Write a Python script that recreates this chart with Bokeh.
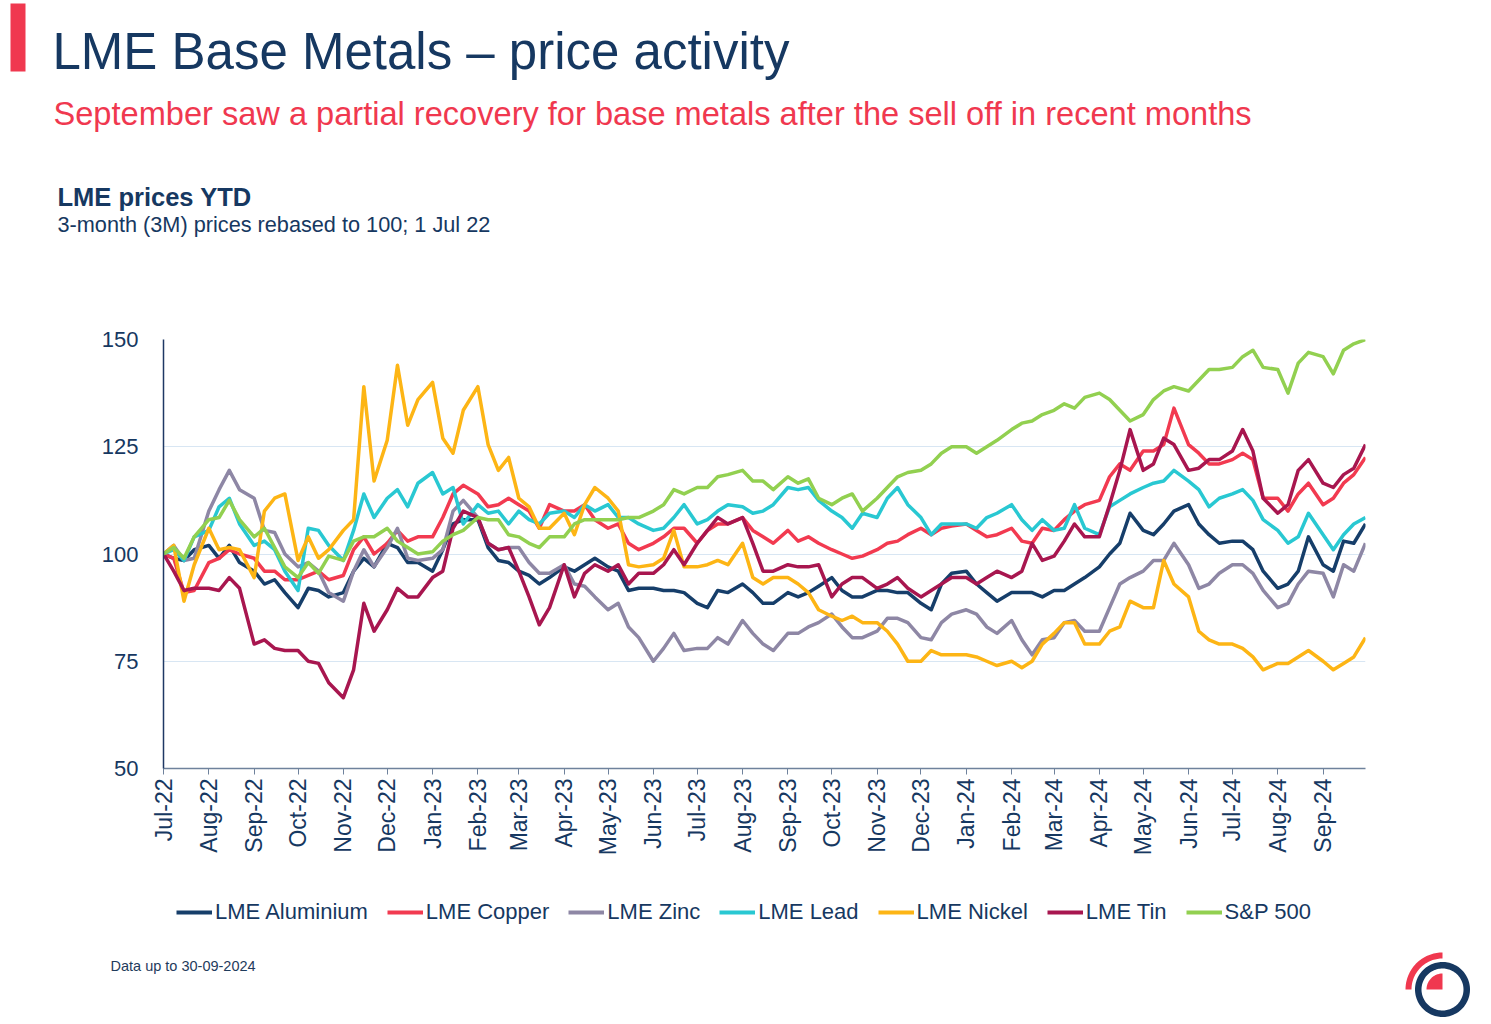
import numpy as np
import pandas as pd
from bokeh.plotting import figure
from bokeh.layouts import column
from bokeh.models import (Legend, LegendItem, FixedTicker, MonthsTicker,
                          DatetimeTickFormatter, Range1d)
from bokeh.core.properties import value
from bokeh.embed import file_html
from bokeh.resources import INLINE

# ---------------- data ----------------
MONTH_STARTS = pd.date_range("2022-07-01", "2024-09-01", freq="MS")
SAMPLE_DAYS = [1, 8, 15, 22]
LAST_DATE = "2024-09-30"

ALUMINIUM = [
    100, 99, 98.5, 101,  102, 99, 102, 98,  96, 93, 94, 91,  87.5, 92, 91.5, 90,
    91, 96, 99, 97,  102.5, 101.5, 98, 98,
    96, 101, 107, 108,  108, 101.5, 98.5, 98,  96, 95, 93, 94.5,  97, 96, 97.5, 99,
    97, 96, 91.5, 92,  92, 91.5, 91.5, 91,  88.5, 87.5, 91.5, 91,  93, 91, 88.5, 88.5,
    91, 90, 91, 92.5,  94.5, 91.5, 90, 90,  91.5, 91.5, 91, 91,  88.5, 87, 93, 95.5,
    96, 93, 91, 89,  91, 91, 91, 90,  91.5, 91.5, 93, 94.5,  97, 100, 102.5, 109.5,
    105.5, 104.5, 107, 110,  111.5, 107, 104.5, 102.5,  103, 103, 101, 96,
    92, 93, 96, 104,  97.5, 96, 103, 102.5, 107]

COPPER = [
    100, 99, 91, 91.5,  98, 99, 101, 100,  99, 96, 96, 94,  94, 95, 96, 94,
    95, 101, 104, 100,  102.5, 105.5, 103, 104,
    104, 108.5, 114, 116,  114, 111, 111.5, 113,  111.5, 110, 106, 111.5,  110, 110, 111.5, 108,
    106, 107, 102.5, 101,  102.5, 104, 106, 106,  102.5, 105.5, 107, 107,  108.5, 105.5, 104, 102.5,
    105.5, 103, 104, 102.5,  101, 100, 99, 99.5,  101, 102.5, 103, 104.5,  106, 104.5, 106, 106.5,
    107, 105.5, 104, 104.5,  106, 103, 102.5, 106,  105.5, 108, 110, 111.5,  112.5, 118, 121, 119.5,
    124, 124, 125.5, 134,  125.5, 123.5, 121, 121,  122, 123.5, 122, 113,
    113, 110, 114, 116.5,  111.5, 113, 116.5, 118.5, 122.5]

ZINC = [
    100, 102, 98.5, 99,  110, 115, 119.5, 115,  113, 105.5, 105, 100,  97, 98, 96, 91,
    89, 96, 101, 97,  101.5, 106, 99, 98.5,
    99, 101, 110, 112.5,  108.5, 102.5, 101, 101.5,  101.5, 98, 95.5, 95.5,  97.5, 93, 92.5, 90,
    87, 88.5, 83, 80.5,  75, 78, 81.5, 77.5,  78, 78, 80.5, 79,  84.5, 81.5, 79, 77.5,
    81.5, 81.5, 83, 84,  86, 83, 80.5, 80.5,  82, 85, 85, 84,  80.5, 80, 84, 86,
    87, 86, 83, 81.5,  84.5, 80, 76.5, 80,  80.5, 84, 84.5, 82,  82, 87.5, 93, 94.5,
    96, 98.5, 98.5, 102.5,  97.5, 92, 93, 95.5,  97.5, 97.5, 95.5, 91.5,
    87.5, 88.5, 93, 96,  95.5, 90, 97.5, 96, 102.5]

LEAD = [
    100, 101, 98.5, 104,  105.5, 111, 113, 107,  102, 103, 101, 96,  91.5, 106, 105.5, 102,
    98.5, 105.5, 114, 108.5,  113, 115, 111, 116.5,
    119, 114, 115.5, 107,  111.5, 109.5, 110, 107,  110, 108, 107, 109.5,  110, 108.5, 111.5, 110,
    111.5, 108.5, 108.5, 107,  105.5, 106, 108.5, 111.5,  107, 108, 110, 111.5,  111, 109.5, 110, 111.5,
    115.5, 115, 115.5, 112.5,  110, 108.5, 106, 109.5,  108.5, 113, 115.5, 111.5,  108.5, 104.5, 107, 107,
    107, 106, 108.5, 109.5,  111.5, 108, 105.5, 108,  105.5, 106, 111.5, 106,  104.5, 111, 112.5, 114,
    115.5, 116.5, 117, 119.5,  117, 115, 111, 113,  114, 115, 112.5, 108,
    105.5, 102.5, 104, 109.5,  104.5, 101, 104.5, 107, 108.5]

NICKEL = [
    100, 102, 89, 97.5,  106, 101, 101.5, 101,  94.5, 110, 113, 114,  98.5, 104, 99, 101,
    105.5, 108, 139, 117,  126.5, 144, 130, 136,
    140, 127, 123.5, 133.5,  139, 125.5, 119.5, 122.5,  113, 111, 106, 106,  109.5, 104.5, 111.5, 115.5,
    113, 110, 97.5, 97,  97.5, 99, 105.5, 97,  97, 97.5, 98.5, 97.5,  102.5, 94.5, 93, 94.5,
    94.5, 93, 91, 87,  85.5, 84.5, 85.5, 84,  84, 82, 79, 75,  75, 77.5, 76.5, 76.5,
    76.5, 76, 75, 74,  75, 73.5, 75, 79,  81.5, 84, 84, 79,  79, 82, 83, 89,
    87.5, 87.5, 98.5, 93,  90, 82, 80, 79,  79, 78, 76, 73,
    74.5, 74.5, 76, 77.5,  75, 73, 74.5, 76, 80.5]

TIN = [
    100, 96, 91.5, 92,  92, 91.5, 94.5, 92,  79, 80, 78, 77.5,  77.5, 75, 74.5, 70,
    66.5, 73, 88.5, 82,  87, 92, 90, 90,
    94.5, 96, 106, 110,  108.5, 102.5, 101, 101.5,  96, 90, 83.5, 87.5,  97.5, 90, 95.5, 97.5,
    96, 97.5, 93, 95.5,  95.5, 97.5, 101, 97.5,  102.5, 105.5, 108.5, 107,  108.5, 102.5, 96, 96,
    97.5, 97, 97, 97.5,  90, 93, 94.5, 94.5,  92, 93, 94.5, 92,  90, 91.5, 93, 94.5,
    94.5, 93, 94.5, 96,  94.5, 96, 102.5, 98.5,  99.5, 103, 107, 104,  104, 111.5, 119.5, 129,
    119.5, 121, 127, 125.5,  119.5, 120, 122, 122,  124, 129, 124, 113,
    109.5, 111.5, 119.5, 122,  116.5, 115.5, 118.5, 120, 125.5]

SP500 = [
    100, 101.5, 99, 104,  108, 108.5, 112.5, 108,  104, 106, 101.5, 97,  94.5, 98, 95.5, 99.5,
    98.5, 103, 104, 104,  106, 103, 101.5, 100,
    100.5, 103, 104.5, 105.5,  108.5, 108, 108, 104.5,  104, 102.5, 101.5, 104,  104, 107, 108, 108,
    108, 108, 108.5, 108.5,  110, 111.5, 115, 114,  115.5, 115.5, 118, 118.5,  119.5, 117, 117, 115,
    118, 116.5, 117.5, 113,  111.5, 113, 114, 110,  113, 115.5, 118, 119,  119.5, 121, 123.5, 125,
    125, 123.5, 125, 126.5,  129, 130.5, 131, 132.5,  133.5, 135, 134, 136.5,  137.5, 136, 133.5, 131,
    132.5, 136, 138, 139,  138, 140.5, 143, 143,  143.5, 146, 147.5, 143.5,
    143, 137.5, 144.5, 147,  146, 142, 147.5, 149, 150]

SERIES_NAMES = ["LME Aluminium", "LME Copper", "LME Zinc", "LME Lead",
                "LME Nickel", "LME Tin", "S&P 500"]
SERIES_VALUES = [ALUMINIUM, COPPER, ZINC, LEAD, NICKEL, TIN, SP500]
SERIES_COLORS = ["#163E6A", "#F23A50", "#8E87A5", "#29C8D2",
                 "#FDB515", "#A8164F", "#92D050"]

Y_TICKS = [50, 75, 100, 125, 150]

DATES = [m + pd.Timedelta(days=d - 1) for m in MONTH_STARTS for d in SAMPLE_DAYS]
DATES.append(pd.Timestamp(LAST_DATE))

# ---------------- styling ----------------
NAVY = "#163861"
RED = "#F0384F"
FONT = "Liberation Sans"
W = 1491
H_TOP, H_MAIN, H_FOOT = 300, 580, 144
FL, FR = 163, 1365
FRAME_TOP, FRAME_BOTTOM = 339, 768          # canvas pixels
LINE_W = 3.5
BASELINE_SHIFT = 0.37                       # svg text baseline correction (em)


def blank_fig(h):
    f = figure(width=W, height=h, x_range=Range1d(0, W), y_range=Range1d(h, 0),
               x_axis_location=None, y_axis_location=None,
               output_backend="svg", toolbar_location=None, min_border=0)
    f.grid.visible = False
    f.outline_line_color = None
    f.background_fill_color = "white"
    f.border_fill_color = "white"
    f.frame_align = False
    return f


def add_text(f, text, x, y, size, color=NAVY, style="normal"):
    f.text(x=[x], y=[y - BASELINE_SHIFT * size], text=[text], text_font=value(FONT),
           text_font_size=value(f"{size}px"),
           text_color=color, text_font_style=style, text_baseline="alphabetic",
           text_align="left")


# ---------------- header ----------------
top = blank_fig(H_TOP)
top.quad(left=[10], right=[25], top=[3], bottom=[71], fill_color=RED, line_color=None)
add_text(top, "LME Base Metals \u2013 price activity", 52, 70, 51)
add_text(top, "September saw a partial recovery for base metals after the sell off in recent months",
         53, 125, 32.6, color=RED)
add_text(top, "LME prices YTD", 57, 206, 25.5, style="bold")
add_text(top, "3-month (3M) prices rebased to 100; 1 Jul 22", 57, 232, 21.7)

# ---------------- main chart ----------------
p = figure(width=W, height=H_MAIN, x_axis_type="datetime",
           x_range=Range1d(start=pd.Timestamp("2022-07-01"), end=pd.Timestamp(LAST_DATE)),
           y_range=Range1d(50, 150),
           output_backend="svg", toolbar_location=None,
           min_border_left=FL, min_border_right=W - FR,
           min_border_top=FRAME_TOP - H_TOP,
           min_border_bottom=H_TOP + H_MAIN - FRAME_BOTTOM)
p.frame_align = False
p.outline_line_color = None
p.background_fill_color = "white"
p.border_fill_color = "white"

for name, vals, col in zip(SERIES_NAMES, SERIES_VALUES, SERIES_COLORS):
    p.line(DATES, vals, line_color=col, line_width=LINE_W, line_join="round")

p.xaxis.ticker = MonthsTicker(months=list(range(12)))
p.xaxis.formatter = DatetimeTickFormatter(months="%b-%y", days="%b-%y", years="%b-%y")
p.xaxis.major_label_orientation = np.pi / 2
p.xaxis.major_label_text_font = FONT
p.xaxis.major_label_text_font_size = "23px"
p.xaxis.major_label_text_color = NAVY
p.xaxis.major_label_standoff = 4
p.xaxis.axis_line_color = "#6F829C"
p.xaxis.axis_line_width = 1.5
p.xaxis.major_tick_line_color = "#6F829C"
p.xaxis.major_tick_out = 6
p.xaxis.major_tick_in = 0
p.xaxis.minor_tick_line_color = None

p.yaxis.ticker = FixedTicker(ticks=Y_TICKS)
p.yaxis.major_label_text_font = FONT
p.yaxis.major_label_text_font_size = "22px"
p.yaxis.major_label_text_color = NAVY
p.yaxis.major_label_standoff = 19
p.yaxis.axis_line_color = "#1F3864"
p.yaxis.axis_line_width = 1.5
p.yaxis.major_tick_line_color = None
p.yaxis.minor_tick_line_color = None

p.xgrid.grid_line_color = None
p.ygrid.ticker = FixedTicker(ticks=Y_TICKS)
p.ygrid.grid_line_color = "#D8E6F3"
p.ygrid.grid_line_width = 1

# ---------------- footer: legend, note, logo ----------------
foot = blank_fig(H_FOOT)
FOOT_Y0 = H_TOP + H_MAIN
items = []
for name, col in zip(SERIES_NAMES, SERIES_COLORS):
    # legend swatch carrier: a line with a single missing point (draws nothing itself)
    r = foot.line(x=[np.nan], y=[np.nan], line_color=col, line_width=LINE_W + 0.5)
    items.append(LegendItem(label=name, renderers=[r]))
legend = Legend(items=items, location=(176, H_FOOT - (925 - FOOT_Y0)), orientation="horizontal",
                label_text_font=FONT, label_text_font_size="22px", label_text_color=NAVY,
                glyph_width=36, glyph_height=20, label_standoff=3, spacing=19,
                padding=0, margin=0, border_line_color=None, background_fill_alpha=0)
foot.add_layout(legend)

add_text(foot, "Data up to 30-09-2024", 110, 971 - FOOT_Y0, 14.5, color="#1F3B5C")

LCX, LCY = 1442, 989 - FOOT_Y0


def ring_pts(r_out, r_in, a0, a1, n=60):
    t = np.linspace(np.radians(a0), np.radians(a1), n)
    xs = list(LCX + r_out * np.cos(t)) + list(LCX + r_in * np.cos(t[::-1]))
    ys = list(LCY - r_out * np.sin(t)) + list(LCY - r_in * np.sin(t[::-1]))
    return xs, ys


xs, ys = ring_pts(27.5, 0, 0, 360, 120)
foot.patch(xs, ys, fill_color=NAVY, line_color=None)
xs, ys = ring_pts(21, 0, 0, 360, 120)
foot.patch(xs, ys, fill_color="white", line_color=None)
xs, ys = ring_pts(16, 0, 90, 180, 40)
foot.patch(xs, ys, fill_color=RED, line_color=None)
xs, ys = ring_pts(37, 31, 90, 180, 40)
foot.patch(xs, ys, fill_color=RED, line_color=None)

layout = column(top, p, foot, spacing=0)
open("out.html", "w").write(file_html(layout, INLINE))
